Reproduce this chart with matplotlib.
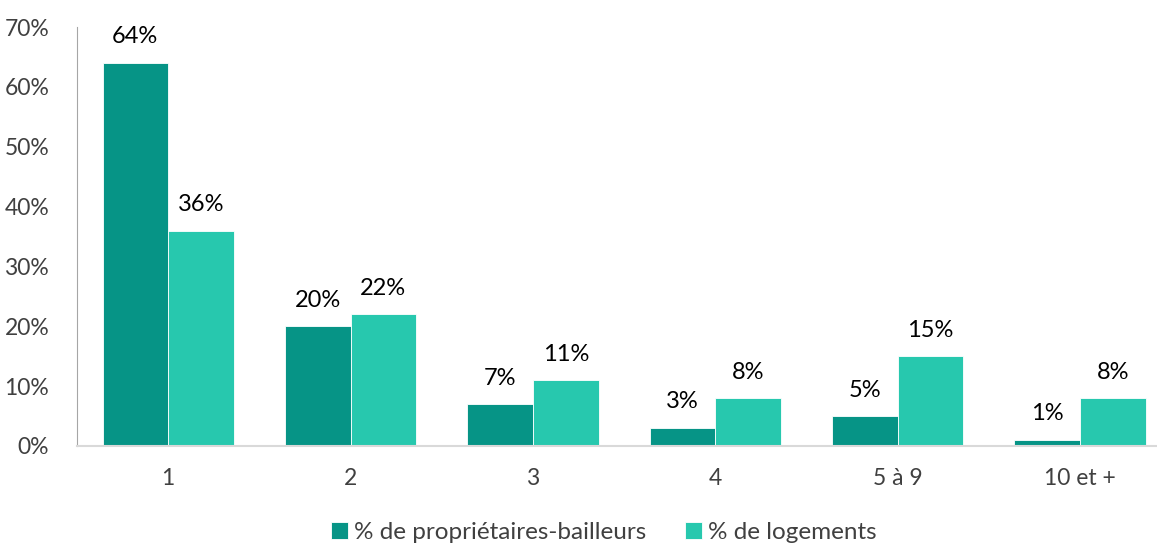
import matplotlib
matplotlib.use("Agg")
import matplotlib.pyplot as plt
import numpy as np

categories = ['1', '2', '3', '4', '5 à 9', '10 et +']
proprietaires = [64, 20, 7, 3, 5, 1]
logements = [36, 22, 11, 8, 15, 8]
yticks = [0, 10, 20, 30, 40, 50, 60, 70]

plt.rcParams['font.family'] = ['Lato', 'DejaVu Sans']

dark = '#069486'
light = '#27C8AE'

fig = plt.figure(figsize=(11.57, 5.43), dpi=100)
ax = fig.add_axes([77 / 1157, 1 - 446 / 543, 1080 / 1157, (446 - 27) / 543])

x = np.arange(len(categories))
w = 0.36
b1 = ax.bar(x - w / 2, proprietaires, w, color=dark, edgecolor='white', linewidth=0.6,
            label='% de propriétaires-bailleurs')
b2 = ax.bar(x + w / 2, logements, w, color=light, edgecolor='white', linewidth=0.6,
            label='% de logements')

for bars, vals in [(b1, proprietaires), (b2, logements)]:
    for bar, v in zip(bars, vals):
        ax.text(bar.get_x() + bar.get_width() / 2, v + 2.6, f'{v}%', ha='center', va='bottom',
                fontsize=17, color='black')

ax.set_ylim(0, 70)
ax.set_xlim(-0.5, (1157 - 168) / 182.4)
ax.set_yticks(yticks)
ax.set_yticklabels([f'{t}%' for t in yticks])
ax.set_xticks(x)
ax.set_xticklabels(categories)
ax.tick_params(axis='both', length=0, labelsize=16.5, labelcolor='#404040')
ax.tick_params(axis='x', pad=16)
ax.tick_params(axis='y', pad=20)

ax.spines['top'].set_visible(False)
ax.spines['right'].set_visible(False)
ax.spines['left'].set_color('#A6A6A6')
ax.spines['bottom'].set_color('#D9D9D9')
ax.spines['bottom'].set_linewidth(1.5)

fig.legend(loc='lower center', bbox_to_anchor=(0.522, -0.04), ncol=2, frameon=False,
           fontsize=17.5, handlelength=0.7, handleheight=0.7, handletextpad=0.25,
           columnspacing=1.6, labelcolor='#404040')

fig.savefig('out.png', dpi=100)
